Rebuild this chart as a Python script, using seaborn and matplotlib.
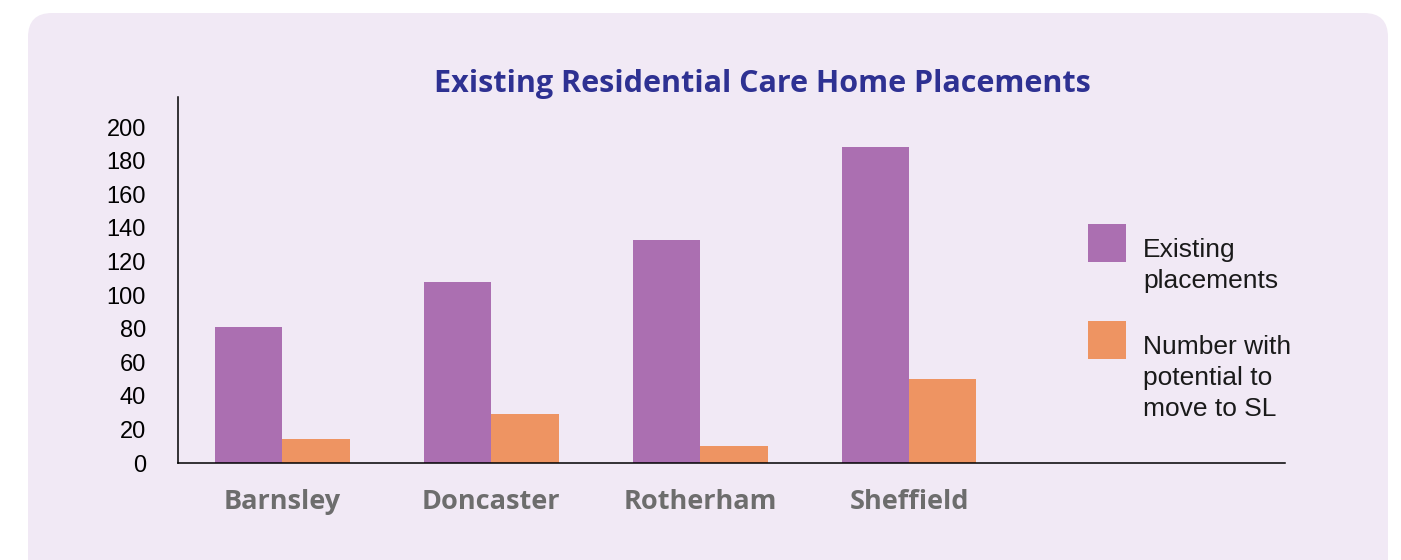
import matplotlib
matplotlib.use("Agg")
import matplotlib.pyplot as plt
from matplotlib.patches import FancyBboxPatch, Rectangle
from matplotlib.transforms import IdentityTransform
import pandas as pd
import seaborn as sns

# ---------------------------------------------------------------------------
# Data
# ---------------------------------------------------------------------------
areas = ["Barnsley", "Doncaster", "Rotherham", "Sheffield"]
existing = [81, 108, 133, 188]
potential = [14, 29, 10, 50]
series_names = ["Existing\nplacements", "Number with\npotential to\nmove to SL"]
series_colors = ["#ab6fb1", "#ee9462"]
y_ticks = list(range(0, 201, 20))

df = pd.DataFrame({
    "area": areas * 2,
    "value": existing + potential,
    "series": [series_names[0]] * len(areas) + [series_names[1]] * len(areas),
})

sns.set_style("white")
plt.rcParams["font.family"] = ["Liberation Sans", "DejaVu Sans"]

W, H = 1401, 560
fig = plt.figure(figsize=(W / 100, H / 100), dpi=100, facecolor="white")

# rounded lavender panel behind everything
panel = FancyBboxPatch((28, -40), 1360, 547 + 40,
                       boxstyle="round,pad=0,rounding_size=24",
                       transform=IdentityTransform(),
                       facecolor="#f1e9f5", edgecolor="none", zorder=0)
fig.add_artist(panel)

ax = fig.add_axes([178 / W, 1 - 463 / H, (1285 - 178) / W, (463 - 97) / H])
ax.set_facecolor("none")

sns.barplot(data=df, x="area", y="value", hue="series", palette=series_colors,
            width=0.645, saturation=1, legend=False, linewidth=0, ax=ax)

ax.set_xlim(-0.5, 4.8)
ax.set_ylim(0, 218)
ax.set_yticks(y_ticks)
ax.set_xlabel("")
ax.set_ylabel("")
for s in ["top", "right"]:
    ax.spines[s].set_visible(False)
for s in ["left", "bottom"]:
    ax.spines[s].set_color("black")
    ax.spines[s].set_linewidth(1.1)
ax.tick_params(axis="y", length=0, pad=23, labelsize=17, labelcolor="black")
ax.tick_params(axis="x", length=0, pad=19)
for lbl in ax.get_xticklabels():
    lbl.set_family(["Open Sans", "DejaVu Sans"])
    lbl.set_fontweight("bold")
    lbl.set_fontsize(19.5)
    lbl.set_color("#6d6d6d")

fig.text(762 / W, 1 - 84 / H, "Existing Residential Care Home Placements",
         ha="center", va="center", family=["Open Sans", "DejaVu Sans"],
         fontweight="bold", fontsize=22, color="#2e3192")

# legend drawn by hand to keep squares at the top of each entry
box_tops = [224, 321]
for name, color, top in zip(series_names, series_colors, box_tops):
    fig.add_artist(Rectangle((1088, H - top - 38), 38, 38, transform=IdentityTransform(),
                             facecolor=color, edgecolor="none"))
    fig.text(1143 / W, 1 - (top + 14) / H, name, ha="left", va="top",
             fontsize=19, color="#1a1a1a", linespacing=1.36)

fig.savefig("out.png", dpi=100)
